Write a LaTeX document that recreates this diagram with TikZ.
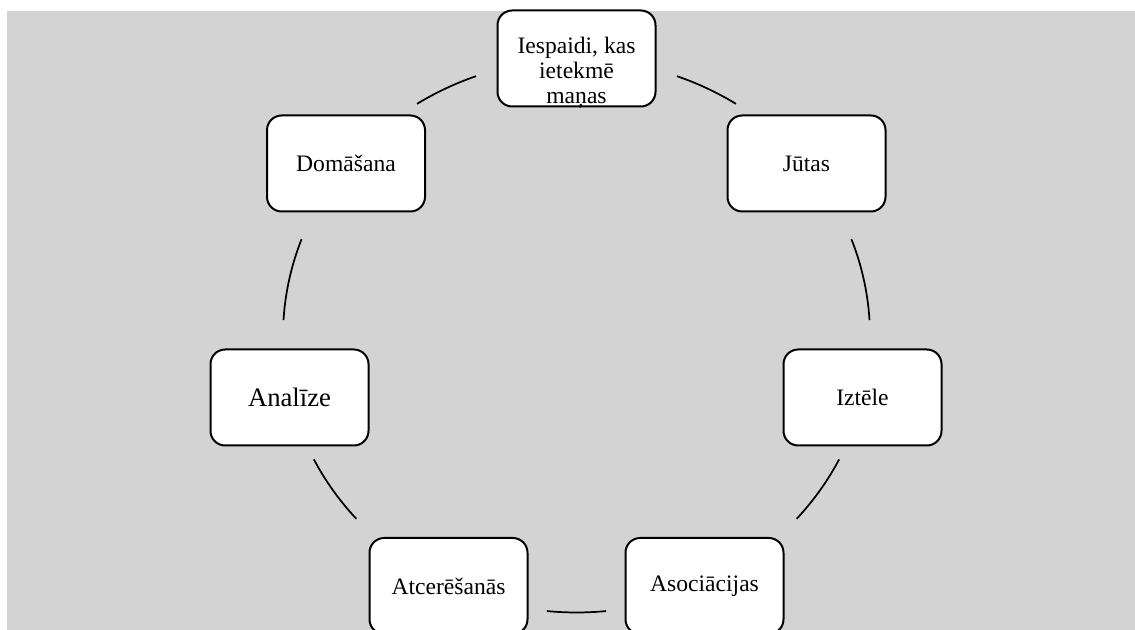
\documentclass[tikz,border=0pt]{standalone}
\usepackage{fontspec}
\setmainfont{Liberation Serif}
\definecolor{bggray}{RGB}{211,211,211}
\begin{document}
\begin{tikzpicture}[x=0.75pt,y=0.75pt,
  cbox/.style={draw=black, line width=1.5pt, fill=white, rounded corners=11pt,
    minimum width=118.5pt, minimum height=72pt, inner sep=2pt, align=center,
    font=\fontsize{17.7pt}{18pt}\selectfont},
  arcline/.style={draw=black, line width=1.3pt}]
\useasboundingbox (0,0) rectangle (1135,630);
\clip (0,0) rectangle (1135,630);
\fill[bggray] (7,0) rectangle (1135,619);
\coordinate (C) at (576.5,294);
% nodes
\node[cbox] (n1) at (576.5,571.5) {\raisebox{-15.5pt}[0pt][0pt]{\fontsize{17.7pt}{18.6pt}\selectfont\setlength{\tabcolsep}{0pt}\begin{tabular}{c}Iespaidi, kas\\ietekmē\\maņas\end{tabular}}};
\node[cbox] (n2) at (806.5,466.5) {Jūtas};
\node[cbox] (n3) at (862.5,232.5) {Iztēle};
\node[cbox] (n4) at (704.5,44) {Asociācijas};
\node[cbox] (n5) at (448.5,44) {Atcerēšanās};
\node[cbox, font=\fontsize{20pt}{22pt}\selectfont] (n6) at (289.5,232.5) {Analīze};
\node[cbox] (n7) at (346,466.5) {Domāšana};
% arcs between nodes
\coordinate (a1) at ([shift={(122.9:293.5 and 276.5)}]C);
\coordinate (a2) at ([shift={(70:293.5 and 276.5)}]C);
\coordinate (a3) at ([shift={(20.5:293.5 and 276.5)}]C);
\coordinate (a4) at ([shift={(-26.5:293.5 and 276.5)}]C);
\coordinate (a5) at ([shift={(-84.2:293.5 and 276.5)}]C);
\coordinate (a6) at ([shift={(-138.6:293.5 and 276.5)}]C);
\coordinate (a7) at ([shift={(176.7:293.5 and 276.5)}]C);
\draw[arcline] (a1) arc[start angle=122.9, end angle=110, x radius=293.5, y radius=276.5];
\draw[arcline] (a2) arc[start angle=70, end angle=57.1, x radius=293.5, y radius=276.5];
\draw[arcline] (a3) arc[start angle=20.5, end angle=3.3, x radius=293.5, y radius=276.5];
\draw[arcline] (a4) arc[start angle=-26.5, end angle=-41.4, x radius=293.5, y radius=276.5];
\draw[arcline] (a5) arc[start angle=-84.2, end angle=-95.8, x radius=293.5, y radius=276.5];
\draw[arcline] (a6) arc[start angle=-138.6, end angle=-153.5, x radius=293.5, y radius=276.5];
\draw[arcline] (a7) arc[start angle=176.7, end angle=159.5, x radius=293.5, y radius=276.5];
\end{tikzpicture}
\end{document}
